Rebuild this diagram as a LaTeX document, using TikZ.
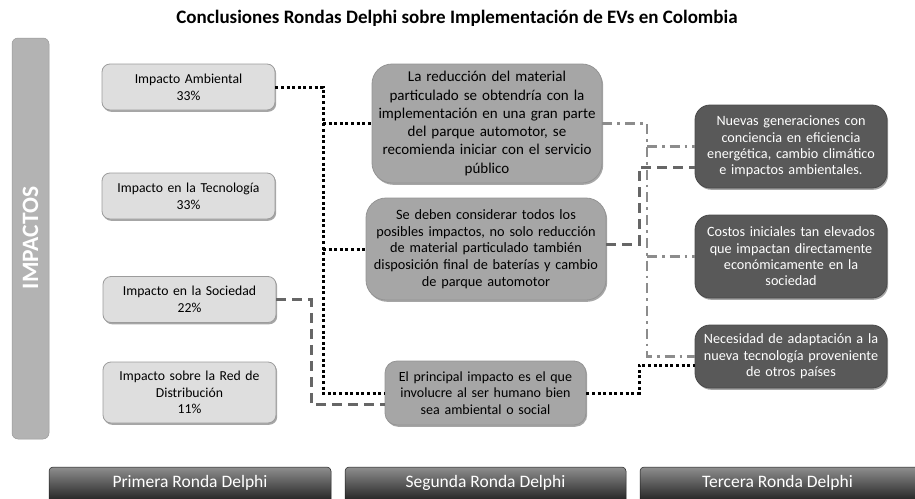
\documentclass[tikz,border=0pt]{standalone}
\usepackage{fontspec}
\setmainfont{Carlito}
\usetikzlibrary{shadows}
\definecolor{leftfill}{HTML}{DEDEDE}
\definecolor{leftborder}{HTML}{9C9C9C}
\definecolor{midfill}{HTML}{A6A6A6}
\definecolor{midborder}{HTML}{949494}
\definecolor{rightfill}{HTML}{595959}
\definecolor{rightborder}{HTML}{4A4A4A}
\definecolor{impfill}{HTML}{B3B3B3}
\definecolor{bartop}{HTML}{8E8E8E}
\definecolor{barbot}{HTML}{1C1C1C}
\definecolor{dashcol}{HTML}{666666}
\definecolor{ddcol}{HTML}{8C8C8C}
\tikzset{
  myshadow/.style={drop shadow={shadow xshift=1.2pt, shadow yshift=-1.8pt, opacity=0.35, fill=black}},
  lbox/.style={draw=leftborder, line width=0.8pt, fill=leftfill, rounded corners=8pt, myshadow,
    text width=165pt, inner xsep=4pt, inner ysep=0pt, align=center,
    font=\fontsize{13.7}{16.7}\selectfont, text=black},
  mbox/.style={draw=midborder, line width=0.8pt, fill=midfill, rounded corners=20pt, myshadow,
    inner xsep=4pt, inner ysep=0pt, align=center, text=black},
  rbox/.style={draw=rightborder, line width=0.8pt, fill=rightfill, rounded corners=15pt, myshadow,
    text width=184pt, inner xsep=4pt, inner ysep=0pt, align=center, minimum height=83pt,
    font=\fontsize{14.2}{16.4}\selectfont, text=white},
  roundbar/.style={draw=barbot, line width=0.5pt, top color=bartop, bottom color=barbot, rounded corners=4pt,
    inner sep=0pt, text=white, font=\fontsize{17.5}{20}\selectfont},
  dotline/.style={black, line width=3pt, dash pattern=on 3pt off 2.6pt},
  dashline/.style={dashcol, line width=3pt, dash pattern=on 10pt off 6pt},
  ddline/.style={ddcol, line width=2.7pt, dash pattern=on 10pt off 5pt on 2.7pt off 5pt},
}
\begin{document}
\begin{tikzpicture}[x=1pt, y=-1pt]
\useasboundingbox (0,0) rectangle (915,498);

% title
\node (title) at (457,18) {\fontsize{19}{22}\selectfont\bfseries Conclusiones Rondas Delphi sobre Implementación de EVs en Colombia};

% impactos bar
\node[fill=impfill, draw=impfill!85!black, line width=0.5pt, rounded corners=6pt, minimum width=37pt, minimum height=401pt, inner sep=0pt] (imp) at (30.5,238.5) {};
\node[rotate=90, text=white, font=\fontsize{23.5}{26}\selectfont\bfseries] (imptext) at (30.5,238) {IMPACTOS};

% left boxes
\node[lbox, minimum height=46pt] (L1) at (188.5,87) {Impacto Ambiental\\33\%};
\node[lbox, minimum height=46pt] (L2) at (188.5,196) {Impacto en la Tecnología\\33\%};
\node[lbox, minimum height=46pt] (L3) at (189.5,299.5) {Impacto en la Sociedad\\22\%};
\node[lbox, minimum height=61pt] (L4) at (189.5,392.5) {Impacto sobre la Red de\\Distribución\\11\%};

% middle boxes
\node[mbox, text width=222pt, minimum height=119pt, font=\fontsize{15}{18.3}\selectfont] (A) at (487,123.5)
  {La reducción del material\\particulado se obtendría con la\\implementación en una gran parte\\del parque automotor, se\\recomienda iniciar con el servicio\\público};
\node[mbox, text width=232pt, minimum height=102pt, font=\fontsize{14.3}{16.8}\selectfont] (B) at (486,249)
  {Se deben considerar todos los\\posibles impactos, no solo reducción\\de material particulado también\\disposición final de baterías y cambio\\de parque automotor};
\node[mbox, rounded corners=12pt, text width=193pt, minimum height=64pt, font=\fontsize{14}{16.5}\selectfont] (C) at (485.5,393)
  {El principal impacto es el que\\involucre al ser humano bien\\sea ambiental o social};

% right boxes
\node[rbox] (D) at (791,146.5) {Nuevas generaciones con\\conciencia en eficiencia\\energética, cambio climático\\e impactos ambientales.};
\node[rbox] (E) at (791,256.5) {Costos iniciales tan elevados\\que impactan directamente\\económicamente en la\\sociedad};
\node[rbox, minimum height=63pt] (F) at (791,356.5) {Necesidad de adaptación a la\\nueva tecnología proveniente\\de otros países};

% bottom bars
\begin{scope}
\clip (0,0) rectangle (915,498);
\node[roundbar, minimum width=282pt, minimum height=36pt] (R1) at (190,485) {};
\node[roundbar, minimum width=281pt, minimum height=36pt] (R2) at (485.5,485) {};
\node[roundbar, minimum width=285pt, minimum height=36pt] (R3) at (782.5,485) {};
\end{scope}
\node[text=white, font=\fontsize{17.5}{20}\selectfont] (T1) at (190,483) {Primera Ronda Delphi};
\node[text=white, font=\fontsize{17.5}{20}\selectfont] (T2) at (485.5,483) {Segunda Ronda Delphi};
\node[text=white, font=\fontsize{17.5}{20}\selectfont] (T3) at (777.5,483) {Tercera Ronda Delphi};

% helper coordinates
\coordinate (dv) at (323,0);
\coordinate (lx) at (311,0);
\coordinate (rx) at (639,0);
\coordinate (mx) at (647,0);
\coordinate (c2) at ([yshift=-11pt]C.west);
\coordinate (f1) at ([yshift=-8.5pt]F.west);
\coordinate (b2) at ([yshift=5pt]B.east);
\coordinate (d2) at ([yshift=-20.5pt]D.west);

% dotted connectors
\draw[dotline] (L1.east) -| (dv |- C.west) -- (C.west);
\draw[dotline] (dv |- A.west) -- (A.west);
\draw[dotline] (dv |- B.west) -- (B.west);
\draw[dotline] (C.east) -| (rx |- f1) -- (f1);

% dashed connectors
\draw[dashline] (L3.east) -| (lx |- c2) -- (c2);
\draw[dashline] (b2) -| (rx |- d2) -- (d2);

% dash-dot connectors
\draw[ddline] (A.east) -| (mx |- F.west) -- (F.west);
\draw[ddline] (mx |- D.west) -- (D.west);
\draw[ddline] (mx |- E.west) -- (E.west);
\end{tikzpicture}
\end{document}
